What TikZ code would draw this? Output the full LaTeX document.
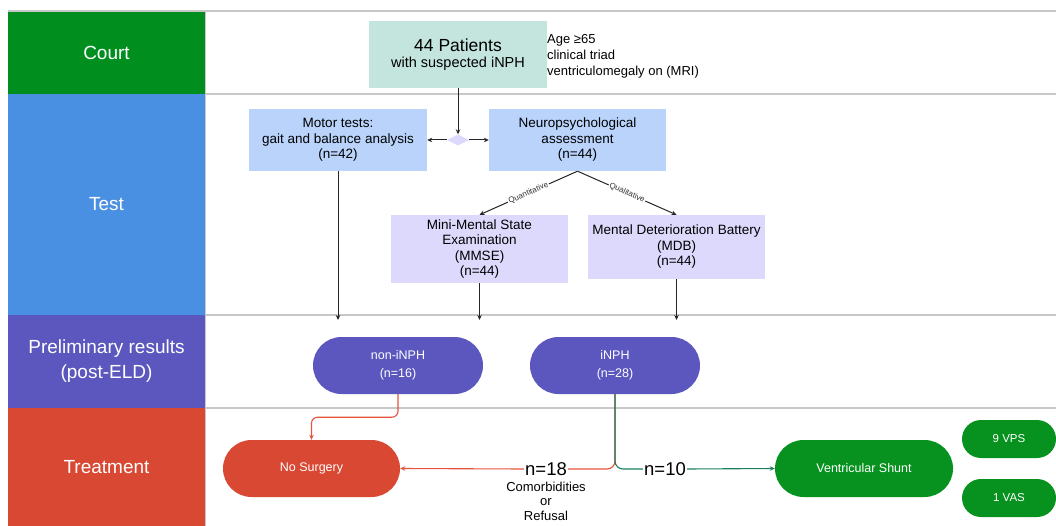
\documentclass[tikz,border=0pt]{standalone}
\usepackage{fontspec}
\setmainfont{Liberation Sans}
\usetikzlibrary{shapes.geometric,arrows.meta}
\definecolor{lgreen}{HTML}{008F1F}
\definecolor{lblue}{HTML}{4A90E2}
\definecolor{lpurple}{HTML}{5B57BE}
\definecolor{lred}{HTML}{D84833}
\definecolor{teal}{HTML}{C4E5DE}
\definecolor{boxblue}{HTML}{B9D3FB}
\definecolor{lav}{HTML}{DDD9FC}
\definecolor{grayline}{HTML}{C8C8C8}
\definecolor{conred}{HTML}{E5533D}
\definecolor{congreen}{HTML}{1B7F5E}
\definecolor{vsgreen}{HTML}{07921F}
\begin{document}
\begin{tikzpicture}[x=1pt,y=-1pt,
  lane/.style={text=white,font=\fontsize{19}{25}\selectfont,align=center,inner sep=0,minimum width=197pt},
  box/.style={align=center,inner sep=0,font=\fontsize{13.5}{15.5}\selectfont},
  pill/.style={align=center,inner sep=0,text=white,font=\fontsize{12.5}{18}\selectfont,minimum width=170pt,minimum height=57pt,rounded corners=28.5pt},
  small pill/.style={align=center,inner sep=0,text=white,fill=vsgreen,font=\fontsize{11.5}{13}\selectfont,minimum width=94pt,minimum height=38pt,rounded corners=19pt},
  sep/.style={draw=grayline,line width=1.2pt},
  arr/.style={draw=black!85,line width=1pt,-{Stealth[length=5pt,width=4.5pt]}},
  qlabel/.style={fill=white,inner sep=1pt,font=\fontsize{8}{9}\selectfont,text=black!80},
  nlabel/.style={inner sep=1pt,font=\fontsize{18.5}{20}\selectfont},
  redline/.style={draw=conred,line width=1.1pt},
  greenline/.style={draw=congreen,line width=1.1pt}]
\useasboundingbox (0,0) rectangle (1056,526);
% lanes
\node[lane,fill=lgreen,minimum height=83pt] (court) at (106.5,52.5) {Court};
\node[lane,fill=lblue,minimum height=221pt] (test) at (106.5,204.5) {Test};
\node[lane,fill=lpurple,minimum height=93pt] (prelim) at (106.5,361.5) {Preliminary results\\(post-ELD)};
\node[lane,fill=lred,minimum height=118pt] (treat) at (106.5,467) {Treatment};
\draw[sep] (8,11) -- (1056,11);
\draw[sep] (205,94) -- (1056,94);
\draw[sep] (205,315) -- (1056,315);
\draw[sep] (205,408) -- (1056,408);
\draw[draw=grayline,line width=0.8pt] (205,11) -- (205,526);
% court
\node[box,fill=teal,minimum width=178pt,minimum height=67pt] (pat) at (458,54.5)
  {{\fontsize{17.5}{21}\selectfont 44 Patients}\\{\fontsize{14.5}{17}\selectfont with suspected iNPH}};
\node[anchor=west,align=left,inner sep=0,font=\fontsize{13}{16}\selectfont] (crit) at (547,56)
  {Age ≥65\\clinical triad\\ventriculomegaly on (MRI)};
% test
\node[diamond,fill=lav,aspect=2,minimum width=22pt,minimum height=11pt,inner sep=0] (dia) at (458,140) {};
\node[box,fill=boxblue,minimum width=178pt,minimum height=62pt] (motor) at (338,140)
  {Motor tests:\\gait and balance analysis\\(n=42)};
\node[box,fill=boxblue,minimum width=177pt,minimum height=62pt] (neuro) at (577.5,140)
  {Neuropsychological\\assessment\\(n=44)};
\node[box,fill=lav,minimum width=177pt,minimum height=68pt] (mmse) at (479.5,249)
  {Mini-Mental State\\Examination\\(MMSE)\\(n=44)};
\node[box,fill=lav,minimum width=177pt,minimum height=64pt] (mdb) at (676.5,247)
  {Mental Deterioration Battery\\(MDB)\\(n=44)};
\draw[arr] (pat.south) -- (dia.north);
\draw[arr] (dia.west) -- (motor.east);
\draw[arr] (dia.east) -- (neuro.west);
\draw[arr] (neuro.south) -- node[qlabel,sloped]{Quantitative} (mmse.north);
\draw[arr] (neuro.south) -- node[qlabel,sloped]{Qualitative} (mdb.north);
\coordinate (e1) at (338,320);
\coordinate (e2) at (479.5,320);
\coordinate (e3) at (676.5,320);
\draw[arr] (motor.south) -- (e1);
\draw[arr] (mmse.south) -- (e2);
\draw[arr] (mdb.south) -- (e3);
% preliminary
\node[pill,fill=lpurple] (non) at (398,365.5) {non-iNPH\\(n=16)};
\node[pill,fill=lpurple] (inph) at (615,365.5) {iNPH\\(n=28)};
% treatment
\node[pill,fill=lred,minimum width=177pt] (nosurg) at (311.5,468.5) {No Surgery};
\node[pill,fill=vsgreen,minimum width=178pt] (vs) at (864,468.5) {Ventricular Shunt};
\node[small pill] (vps) at (1009,439) {9 VPS};
\node[small pill] (vas) at (1009,498) {1 VAS};
\node[nlabel] (n18) at (546,469) {n=18};
\node[align=center,inner sep=0,font=\fontsize{13}{14.5}\selectfont] (why) at (546,501) {Comorbidities\\or\\Refusal};
\node[nlabel] (n10) at (665,469) {n=10};
\draw[redline,rounded corners=8pt] (inph.south) |- (n18.east);
\draw[redline,-{Stealth[length=5pt,width=4.5pt]}] (n18.west) -- (nosurg.east);
\draw[greenline,rounded corners=8pt] (inph.south) |- (n10.west);
\draw[greenline,-{Stealth[length=5pt,width=4.5pt]}] (n10.east) -- (vs.west);
\draw[redline,rounded corners=6pt,-{Stealth[length=5pt,width=4.5pt]}] (non.south) -- ++(0,23) -| (nosurg.north);
\end{tikzpicture}
\end{document}
